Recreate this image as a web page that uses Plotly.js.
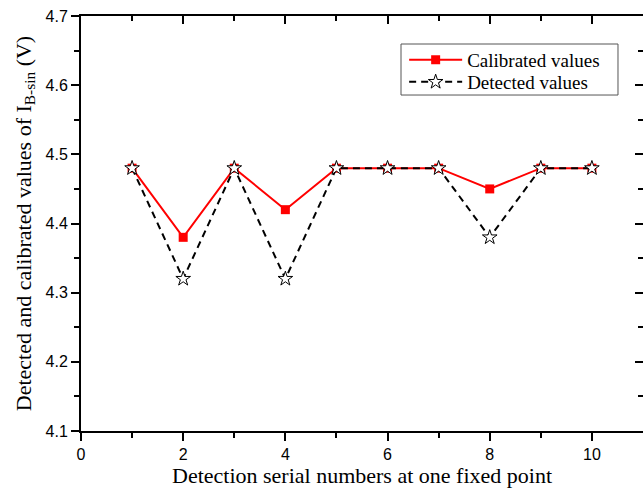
<!DOCTYPE html>
<html>
<head>
<meta charset="utf-8">
<script src="https://cdn.plot.ly/plotly-3.0.1.min.js"></script>
<style>
html,body{margin:0;padding:0;background:#fff;}
#chart{width:643px;height:493px;}
</style>
</head>
<body>
<div id="chart"></div>
<script>
const serialNumbers = [1, 2, 3, 4, 5, 6, 7, 8, 9, 10];
const calibratedValues = [4.48, 4.38, 4.48, 4.42, 4.48, 4.48, 4.48, 4.45, 4.48, 4.48];
const detectedValues = [4.48, 4.32, 4.48, 4.32, 4.48, 4.48, 4.48, 4.38, 4.48, 4.48];
const xTickVals = [0, 2, 4, 6, 8, 10];
const xMinorTickVals = [1, 3, 5, 7, 9];
const yTickVals = [4.1, 4.2, 4.3, 4.4, 4.5, 4.6, 4.7];

const traces = [
  {
    x: serialNumbers, y: calibratedValues, name: 'Calibrated values',
    mode: 'lines+markers', type: 'scatter', legend: 'legend',
    line: {color: '#ff0000', width: 2},
    marker: {symbol: 'square', size: 9, color: '#ff0000'}
  },
  {
    x: serialNumbers, y: detectedValues, name: 'Detected values',
    mode: 'lines+markers', type: 'scatter', legend: 'legend2',
    line: {color: '#000000', width: 2, dash: '7px,5px'},
    marker: {symbol: 'star', size: 11, color: '#ffffff', line: {color: '#000000', width: 1}}
  },
  {
    x: serialNumbers, y: detectedValues, xaxis: 'x2', yaxis: 'y2',
    mode: 'lines', line: {width: 0}, showlegend: false, hoverinfo: 'skip', opacity: 0
  }
];

const tickFont = {family: 'Liberation Sans, Arial, sans-serif', size: 16, color: '#000'};
const serif = 'Liberation Serif, Times New Roman, serif';
const legendBase = {
  xanchor: 'left', yanchor: 'top', borderwidth: 0, bgcolor: 'rgba(0,0,0,0)',
  font: {family: serif, size: 19, color: '#000'}, itemwidth: 53
};

const layout = {
  width: 643, height: 493,
  margin: {l: 81, r: 0, t: 16, b: 62},
  paper_bgcolor: '#fff', plot_bgcolor: '#fff',
  showlegend: true,
  legend: Object.assign({x: 0.575, y: 0.9398}, legendBase),
  legend2: Object.assign({x: 0.575, y: 0.8867}, legendBase),
  shapes: [{
    type: 'rect', xref: 'paper', yref: 'paper',
    x0: 0.5694, x1: 0.9555, y0: 0.8096, y1: 0.9325,
    line: {color: '#555', width: 1}, fillcolor: 'rgba(0,0,0,0)', layer: 'below'
  }],
  xaxis: {
    range: [0, 11], tickvals: xTickVals, ticks: 'outside', ticklen: 8, tickwidth: 2,
    tickcolor: '#000', showline: true, linewidth: 2, linecolor: '#000',
    showgrid: false, zeroline: false, tickfont: tickFont,
    minor: {tickvals: xMinorTickVals, ticks: 'outside', ticklen: 5, tickwidth: 2, tickcolor: '#000', showgrid: false},
    title: {text: 'Detection serial numbers at one fixed point', font: {family: serif, size: 22, color: '#000'}, standoff: 2}
  },
  yaxis: {
    range: [4.1, 4.7], tickvals: yTickVals, ticktext: yTickVals.map(v => v.toFixed(1)),
    ticks: 'outside', ticklen: 8, tickwidth: 2,
    tickcolor: '#000', showline: true, linewidth: 2, linecolor: '#000',
    showgrid: false, zeroline: false, tickfont: tickFont,
    minor: {dtick: 0.05, tick0: 4.1, ticks: 'outside', ticklen: 5, tickwidth: 2, tickcolor: '#000', showgrid: false},
    title: {text: 'Detected and calibrated values of I<sub>B-sin</sub> (V)', font: {family: serif, size: 22, color: '#000'}, standoff: 8}
  },
  xaxis2: {
    overlaying: 'x', side: 'top', range: [0, 11], tickvals: xTickVals,
    ticks: 'inside', ticklen: 8, tickwidth: 2, tickcolor: '#000',
    showline: true, linewidth: 2, linecolor: '#000', showticklabels: false,
    showgrid: false, zeroline: false,
    minor: {tickvals: xMinorTickVals, ticks: 'inside', ticklen: 5, tickwidth: 2, tickcolor: '#000', showgrid: false}
  },
  yaxis2: {
    overlaying: 'y', side: 'right', range: [4.1, 4.7], tickvals: yTickVals,
    ticks: 'inside', ticklen: 8, tickwidth: 2, tickcolor: '#000',
    showline: true, linewidth: 2, linecolor: '#000', showticklabels: false,
    showgrid: false, zeroline: false,
    minor: {dtick: 0.05, tick0: 4.1, ticks: 'inside', ticklen: 5, tickwidth: 2, tickcolor: '#000', showgrid: false}
  }
};

Plotly.newPlot('chart', traces, layout, {displayModeBar: false, staticPlot: true});
</script>
</body>
</html>
